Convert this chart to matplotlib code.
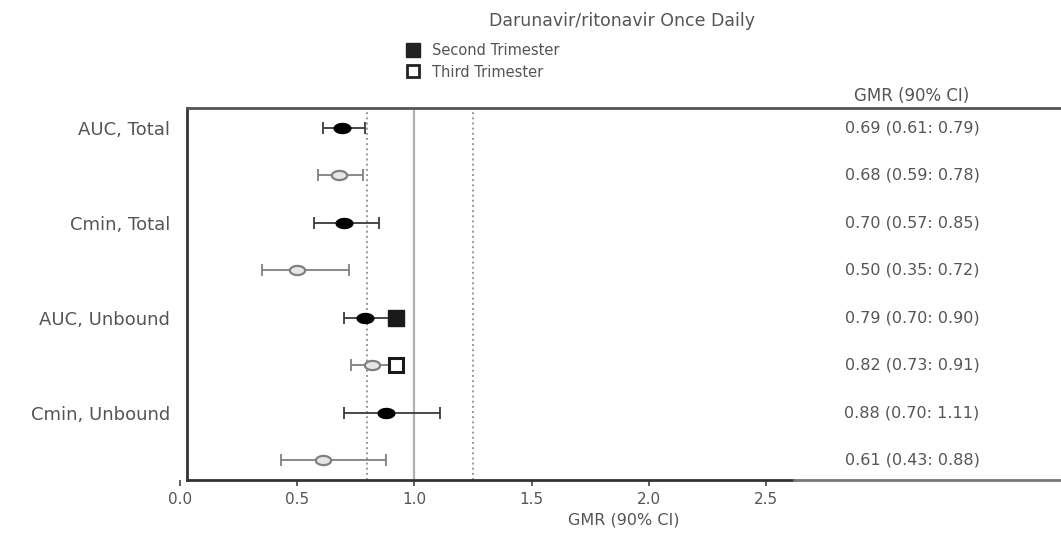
import matplotlib.pyplot as plt
import numpy as np
from matplotlib.path import Path
from matplotlib.lines import Line2D
import matplotlib.transforms as mtransforms

plt.rcParams['font.family'] = 'DejaVu Sans'

# datos del forest plot
etiquetas = ['AUC, Total', 'Cmin, Total', 'AUC, Unbound', 'Cmin, Unbound']
gmr_segundo = [0.69, 0.70, 0.79, 0.88]
bajo_segundo = [0.61, 0.57, 0.70, 0.70]
alto_segundo = [0.79, 0.85, 0.90, 1.11]
gmr_tercero = [0.68, 0.50, 0.82, 0.61]
bajo_tercero = [0.59, 0.35, 0.73, 0.43]
alto_tercero = [0.78, 0.72, 0.91, 0.88]
textos_ci = ['0.69 (0.61: 0.79)', '0.68 (0.59: 0.78)', '0.70 (0.57: 0.85)',
             '0.50 (0.35: 0.72)', '0.79 (0.70: 0.90)', '0.82 (0.73: 0.91)',
             '0.88 (0.70: 1.11)', '0.61 (0.43: 0.88)']
cuadrado_x = [0.92, 0.92]
ticks_x = [0.0, 0.5, 1.0, 1.5, 2.0, 2.5]

filas_segundo = [1, 3, 5, 7]
filas_tercero = [2, 4, 6, 8]

# marcador eliptico
t = np.linspace(0, 2 * np.pi, 60)
elipse = Path(np.column_stack([np.cos(t), 0.6 * np.sin(t)]), closed=True)

W, H = 1061, 537
fig = plt.figure(figsize=(W / 100, H / 100), dpi=100)
ax = fig.add_axes([180 / W, 1 - 480 / H, (794 - 180) / W, (480 - 108) / H])

ax.axvline(1.0, color='#b0b0b0', lw=1.6, zorder=1)
ax.axvline(0.8, color='#999999', ls=':', lw=1.4, zorder=1)
ax.axvline(1.25, color='#999999', ls=':', lw=1.4, zorder=1)

for y, m, lo, hi in zip(filas_segundo, gmr_segundo, bajo_segundo, alto_segundo):
    ax.errorbar([m], [y], xerr=[[m - lo], [hi - m]], fmt='none', ecolor='#3a3a3a',
                elinewidth=1.3, capsize=4.5, capthick=1.3, zorder=2)
    ax.plot(m, y, marker=elipse, ms=12, color='black', ls='', zorder=3)

for y, m, lo, hi in zip(filas_tercero, gmr_tercero, bajo_tercero, alto_tercero):
    ax.errorbar([m], [y], xerr=[[m - lo], [hi - m]], fmt='none', ecolor='#808080',
                elinewidth=1.3, capsize=4.5, capthick=1.3, zorder=2)
    ax.plot(m, y, marker=elipse, ms=11, mfc='#e6e6e6', mec='#808080', mew=1.6,
            ls='', zorder=3)

ax.plot(cuadrado_x[0], 5, marker='s', ms=11, color='#1a1a1a', ls='', zorder=4)
ax.plot(cuadrado_x[1], 6, marker='s', ms=10, mfc='white', mec='#1a1a1a', mew=2.2,
        ls='', zorder=4)

ax.set_xlim(0, 2.62)
ax.set_ylim(8.42, 0.58)
ax.set_xticks(ticks_x)
ax.set_xticklabels(['%.1f' % v for v in ticks_x])
ax.set_yticks(filas_segundo)
ax.set_yticklabels(etiquetas)
ax.tick_params(axis='y', length=0, pad=12, labelsize=13, labelcolor='#555555')
ax.tick_params(axis='x', length=4, width=1.2, color='#444444', pad=5,
               labelsize=11, labelcolor='#555555')

ax.spines['top'].set_visible(False)
ax.spines['right'].set_visible(False)
ax.spines['left'].set_position(('data', 0.03))
ax.spines['left'].set_linewidth(2)
ax.spines['left'].set_color('#333333')
ax.spines['bottom'].set_bounds(0.03, 2.62)
ax.spines['bottom'].set_linewidth(2)
ax.spines['bottom'].set_color('#333333')

# columna de texto a la derecha
trans = mtransforms.blended_transform_factory(fig.transFigure, ax.transData)
for i, s in enumerate(textos_ci):
    ax.text(912 / W, i + 1, s, transform=trans, ha='center', va='center',
            fontsize=11.5, color='#555555', clip_on=False)
fig.text(912 / W, 1 - 96 / H, 'GMR (90% CI)', ha='center', va='center',
         fontsize=12, color='#555555')

# marco
fig.add_artist(Line2D([187 / W, 1], [1 - 108 / H] * 2, color='#555555', lw=2))
fig.add_artist(Line2D([794 / W, 1], [1 - 480 / H] * 2, color='#777777', lw=2))

fig.text(624 / W, 1 - 520 / H, 'GMR (90% CI)', ha='center', va='center',
         fontsize=11.5, color='#555555')
fig.text(622 / W, 1 - 21 / H, 'Darunavir/ritonavir Once Daily', ha='center',
         va='center', fontsize=12.5, color='#555555')

manejadores = [Line2D([], [], marker='s', ls='', ms=10, mfc='#222222', mec='#222222'),
               Line2D([], [], marker='s', ls='', ms=9, mfc='white', mec='#222222', mew=2)]
leg = fig.legend(manejadores, ['Second Trimester', 'Third Trimester'], loc='upper left',
                 bbox_to_anchor=(404 / W, 1 - 43 / H), frameon=False, fontsize=10.5,
                 handletextpad=0.7, labelspacing=0.45, handlelength=1.2,
                 borderaxespad=0, borderpad=0)
for txt in leg.get_texts():
    txt.set_color('#555555')

fig.savefig('out.png', dpi=100)
